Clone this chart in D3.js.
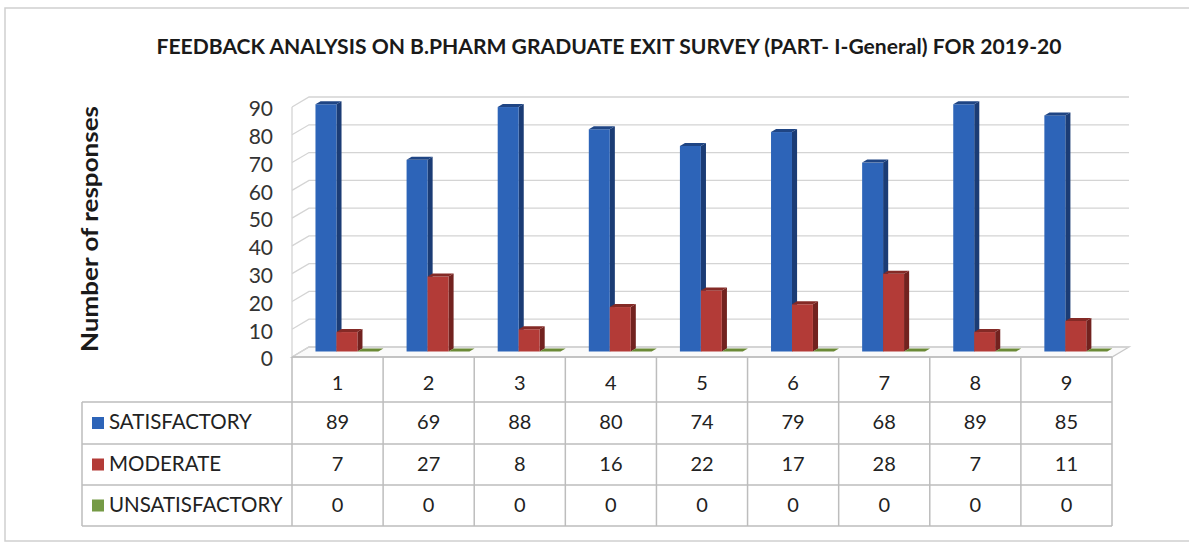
<!DOCTYPE html>
<html>
<head>
<meta charset="utf-8">
<script src="https://cdn.jsdelivr.net/npm/d3@7"></script>
<style>
  body { margin: 0; background: #fff; }
  svg { display: block; font-family: Lato, "Open Sans", sans-serif; }
  .grid { stroke: #d4d4d4; stroke-width: 1.3; fill: none; }
  .tbl { stroke: #bdbdbd; stroke-width: 1.5; }
</style>
</head>
<body>
<div id="chart"></div>
<script>
// --- datos ---
const categories = ["1", "2", "3", "4", "5", "6", "7", "8", "9"];
const satisfactory = [89, 69, 88, 80, 74, 79, 68, 89, 85];
const moderate = [7, 27, 8, 16, 22, 17, 28, 7, 11];
const unsatisfactory = [0, 0, 0, 0, 0, 0, 0, 0, 0];
const seriesNames = ["SATISFACTORY", "MODERATE", "UNSATISFACTORY"];
const yTicks = [0, 10, 20, 30, 40, 50, 60, 70, 80, 90];

const seriesValues = [satisfactory, moderate, unsatisfactory];
const colors = [
  { front: "#2d64b8", side: "#1b3c75", top: "#1f4584" },
  { front: "#b33b37", side: "#72221f", top: "#842a26" },
  { front: "#759a45", side: "#4d6523", top: "#6b8a36" }
];

// --- layout ---
const W = 1189, H = 546;
const plotLeft = 292, plotRight = 1112;
const floorY = 357, topY = 107;
const dx = 17, dy = -10;       // profundidad 3D
const f0 = 0.55, f1 = 0.85;     // barras a media profundidad
const rowLines = [402, 444, 485, 526];
const legendLeft = 82;

const svg = d3.select("#chart").append("svg")
  .attr("width", W).attr("height", H);

const x = d3.scaleBand().domain(categories).range([plotLeft, plotRight]);
const y = d3.scaleLinear().domain([0, 90]).range([floorY, topY]);

// marco exterior
svg.append("rect")
  .attr("x", 5).attr("y", 8).attr("width", W + 10).attr("height", 533)
  .attr("fill", "none").attr("stroke", "#cfcfcf").attr("stroke-width", 1.5);

// título
svg.append("text")
  .attr("x", 609).attr("y", 54)
  .attr("text-anchor", "middle")
  .attr("font-weight", "bold").attr("font-size", 20).attr("fill", "#1a1a1a")
  .attr("textLength", 905).attr("lengthAdjust", "spacingAndGlyphs")
  .text("FEEDBACK ANALYSIS ON B.PHARM GRADUATE EXIT SURVEY (PART- I-General) FOR 2019-20");

// etiqueta eje Y
svg.append("text")
  .attr("transform", `translate(98,229) rotate(-90)`)
  .attr("text-anchor", "middle")
  .attr("font-weight", "bold").attr("font-size", 23).attr("fill", "#1a1a1a")
  .attr("textLength", 246).attr("lengthAdjust", "spacingAndGlyphs")
  .text("Number of responses");

// --- paredes y rejilla ---
const walls = svg.append("g");
// suelo
walls.append("path")
  .attr("d", `M${plotLeft},${floorY} L${plotRight},${floorY} L${plotRight + dx},${floorY + dy} L${plotLeft + dx},${floorY + dy} Z`)
  .attr("fill", "#fafafa").attr("stroke", "#c8c8c8").attr("stroke-width", 1.3);
yTicks.forEach(t => {
  walls.append("path").attr("class", "grid")
    .attr("d", `M${plotLeft},${y(t)} L${plotLeft + dx},${y(t) + dy} L${plotRight + dx},${y(t) + dy}`);
});
// arista frontal izquierda
walls.append("line").attr("class", "grid")
  .attr("x1", plotLeft).attr("x2", plotLeft)
  .attr("y1", y(90)).attr("y2", floorY)
  .attr("stroke", "#c4c4c4");

// ticks eje Y
svg.append("g").selectAll("text").data(yTicks).join("text")
  .attr("x", 273).attr("y", d => y(d) + 4)
  .attr("text-anchor", "end").attr("dominant-baseline", "middle")
  .attr("font-size", 21).attr("fill", "#333")
  .text(d => d);

// --- barras 3D ---
const bw = x.bandwidth() * 0.23;
const groupOffset = (x.bandwidth() - 3 * bw) / 2;
const bars = svg.append("g");

categories.forEach((c, i) => {
  seriesValues.forEach((vals, s) => {
    const v = vals[i];
    const x0 = x(c) + groupOffset + s * bw;
    const col = colors[s];
    const yv = y(v), y0 = y(0);
    const ax = x0 + f0 * dx, ay = f0 * dy;
    const bx = x0 + f1 * dx, by = f1 * dy;
    // cara lateral
    bars.append("path")
      .attr("d", `M${ax + bw},${yv + ay} L${bx + bw},${yv + by} L${bx + bw},${y0 + by} L${ax + bw},${y0 + ay} Z`)
      .attr("fill", col.side);
    // cara frontal
    if (v > 0) {
      bars.append("rect")
        .attr("x", ax).attr("y", yv + ay)
        .attr("width", bw).attr("height", y0 - yv)
        .attr("fill", col.front);
    }
    // tapa
    bars.append("path")
      .attr("d", `M${ax},${yv + ay} L${ax + bw},${yv + ay} L${bx + bw},${yv + by} L${bx},${yv + by} Z`)
      .attr("fill", col.top);
  });
});

// --- tabla de datos ---
const tbl = svg.append("g");
// línea del suelo frontal
tbl.append("line").attr("class", "tbl")
  .attr("x1", plotLeft).attr("x2", plotRight).attr("y1", floorY).attr("y2", floorY);
// verticales de categorías
d3.range(categories.length + 1).forEach(k => {
  const xx = plotLeft + k * x.step();
  tbl.append("line").attr("class", "tbl")
    .attr("x1", xx).attr("x2", xx).attr("y1", floorY).attr("y2", rowLines[3]);
});
// horizontales
rowLines.forEach(ry => {
  tbl.append("line").attr("class", "tbl")
    .attr("x1", legendLeft).attr("x2", plotRight).attr("y1", ry).attr("y2", ry);
});
tbl.append("line").attr("class", "tbl")
  .attr("x1", legendLeft).attr("x2", legendLeft).attr("y1", rowLines[0]).attr("y2", rowLines[3]);

// cabecera de categorías
tbl.selectAll(".cat").data(categories).join("text")
  .attr("x", d => x(d) + x.bandwidth() / 2).attr("y", 385)
  .attr("text-anchor", "middle").attr("dominant-baseline", "middle")
  .attr("font-size", 20).attr("fill", "#222")
  .text(d => d);

seriesNames.forEach((name, s) => {
  const cy = (rowLines[s] + rowLines[s + 1]) / 2;
  tbl.append("rect")
    .attr("x", 92).attr("y", cy - 6).attr("width", 12).attr("height", 12)
    .attr("fill", colors[s].front);
  tbl.append("text")
    .attr("x", 109).attr("y", cy + 1)
    .attr("dominant-baseline", "middle")
    .attr("font-size", 20.5).attr("fill", "#222")
    .text(name);
  tbl.selectAll(null).data(seriesValues[s]).join("text")
    .attr("x", (d, i) => x(categories[i]) + x.bandwidth() / 2).attr("y", cy + 1)
    .attr("text-anchor", "middle").attr("dominant-baseline", "middle")
    .attr("font-size", 20).attr("fill", "#222")
    .text(d => d);
});
</script>
</body>
</html>
